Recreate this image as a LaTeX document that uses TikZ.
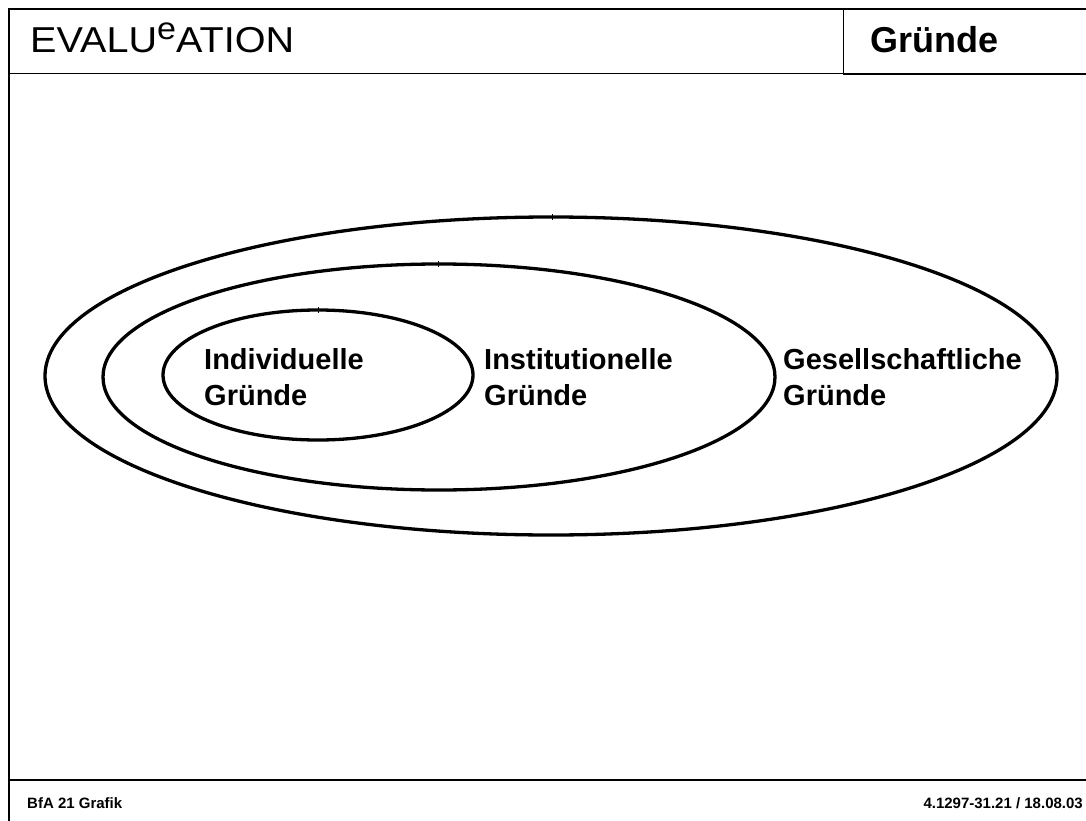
\documentclass[tikz,border=0pt]{standalone}
\usepackage{fontspec}
\setmainfont{Liberation Sans}
\begin{document}
\begin{tikzpicture}[x=1pt,y=-1pt,
  frame/.style={line width=2.5pt,line cap=rect},
  thin/.style={line width=1pt},
  ring/.style={line width=3.3pt},
  tick/.style={line width=0.6pt},
  lbl/.style={anchor=base west,inner sep=0pt,font=\fontsize{29}{36}\selectfont\bfseries,align=left},
  foot/.style={inner sep=0pt,font=\fontsize{15}{18}\selectfont\bfseries}]
\useasboundingbox (0,0) rectangle (1086,821);
% frame
\draw[frame] (1090,9) -- (9,9) -- (9,825);
\draw[thin] (9,74) -- (843,74);
\draw[line width=2pt] (843,74) -- (1090,74);
\draw[thin] (843,9) -- (843,74);
\draw[line width=1.3pt] (9,780) -- (1090,780);
% header
\node[anchor=base west,inner sep=0pt,xscale=1.1,transform shape,font=\fontsize{36}{40}\selectfont] (title) at (30,53)
  {EVALU\raisebox{13pt}{\fontsize{31}{34}\selectfont e}ATION};
\node[anchor=base west,inner sep=0pt,font=\fontsize{36}{40}\selectfont\bfseries] (topic) at (870,53) {Gründe};
% ellipses
\draw[ring] (551,376) ellipse [x radius=506, y radius=159];
\draw[ring] (439,377) ellipse [x radius=336, y radius=113];
\draw[ring] (318,375) ellipse [x radius=155, y radius=65];
\draw[tick] (552,214) -- (552,220);
\draw[tick] (438,261) -- (438,267);
\draw[tick] (318,307) -- (318,313);
% labels
\node[lbl] (ind) at (204,405) {Individuelle\\Gründe};
\node[lbl] (inst) at (484,405) {Institutionelle\\Gründe};
\node[lbl] (ges) at (783,405) {Gesellschaftliche\\Gründe};
% footer
\node[foot,anchor=base west] (fl) at (27,808) {BfA 21 Grafik};
\node[foot,anchor=base east] (fr) at (1083,808) {4.1297-31.21 / 18.08.03};
\end{tikzpicture}
\end{document}
